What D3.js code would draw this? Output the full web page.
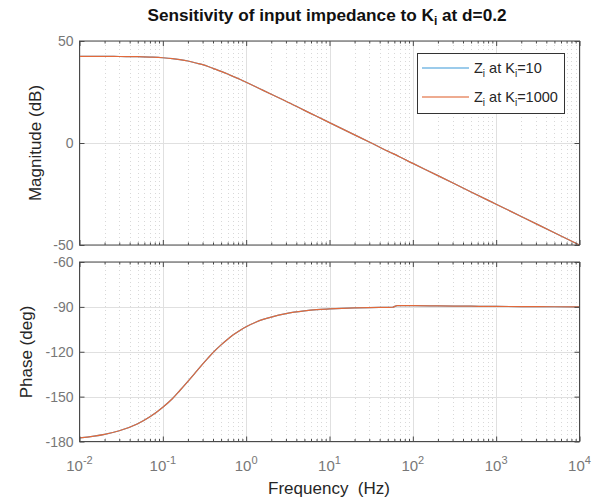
<!DOCTYPE html>
<html>
<head>
<meta charset="utf-8">
<script src="https://cdn.jsdelivr.net/npm/d3@7"></script>
<style>
  body { margin: 0; background: #fff; }
  svg { font-family: "Liberation Sans", Arial, sans-serif; }
</style>
</head>
<body>
<div id="chart"></div>
<script>
// frequency points (Hz)
var freq = [0.01, 0.02, 0.03, 0.05, 0.07, 0.1, 0.13, 0.16, 0.2, 0.25, 0.3, 0.35, 0.4, 0.5, 0.6, 0.7, 0.85,
            1, 1.3, 1.6, 2, 3, 5, 7, 10, 20, 30, 50, 57, 65, 70, 100, 200, 500,
            1000, 2000, 5000, 10000];
// magnitude (dB)
var mag_k10 = [42.5, 42.5, 42.4, 42.3, 42.1, 41.8, 41.4, 40.9, 40.2, 39.2, 38.4, 37.5, 36.6, 35.1, 33.8, 32.6, 31.1,
               29.8, 27.6, 25.8, 23.9, 20.5, 16.0, 13.1, 10.0, 4.0, 0.5, -4.0, -5.1, -6.2, -6.9, -10.0, -16.0, -24.0,
               -30.0, -36.0, -44.0, -50.0];
var mag_k1000 = [42.5, 42.5, 42.4, 42.3, 42.1, 41.8, 41.4, 40.9, 40.2, 39.2, 38.4, 37.5, 36.6, 35.1, 33.8, 32.6, 31.1,
                 29.8, 27.6, 25.8, 23.9, 20.5, 16.0, 13.1, 10.0, 4.0, 0.5, -4.0, -5.1, -6.2, -6.9, -10.0, -16.0, -24.0,
                 -30.0, -36.0, -44.0, -50.0];
// phase (deg)
var phase_k10 = [-177.6, -175.2, -172.8, -168.1, -163.5, -157.1, -151.4, -145.9, -139.8, -133.5, -128.3, -124.1, -120.6, -115.4, -111.6, -108.7, -105.6,
                 -103.3, -100.3, -98.4, -96.8, -94.5, -92.7, -91.9, -91.4, -90.7, -90.45, -90.3, -90.25, -89.1, -89.1, -89.2, -89.35, -89.55,
                 -89.7, -89.8, -89.9, -90.0];
var phase_k1000 = [-177.6, -175.2, -172.8, -168.1, -163.5, -157.1, -151.4, -145.9, -139.8, -133.5, -128.3, -124.1, -120.6, -115.4, -111.6, -108.7, -105.6,
                   -103.3, -100.3, -98.4, -96.8, -94.5, -92.7, -91.9, -91.4, -90.7, -90.45, -90.3, -90.25, -89.1, -89.1, -89.2, -89.35, -89.55,
                   -89.7, -89.8, -89.9, -90.0];

var mag_ticks = [-50, 0, 50];
var phase_ticks = [-180, -150, -120, -90, -60];
var decade_ticks = [1e-2, 1e-1, 1e0, 1e1, 1e2, 1e3, 1e4];
var series_names = ["10", "1000"];
var series_colors = ["#4DA3DB", "#E2693A"];

var width = 599, height = 504;
var left = 79.5, right = 579.5;
var mag_top = 41, mag_bottom = 245;
var ph_top = 262, ph_bottom = 441.5;

var svg = d3.select("#chart").append("svg")
    .attr("width", width)
    .attr("height", height);

var x = d3.scaleLog().domain([1e-2, 1e4]).range([left, right]);
var yMag = d3.scaleLinear().domain([-50, 50]).range([mag_bottom, mag_top]);
var yPh = d3.scaleLinear().domain([-180, -60]).range([ph_bottom, ph_top]);

// minor tick values 2..9 per decade
var minor = [];
decade_ticks.slice(0, -1).forEach(function(d) {
    for (var k = 2; k <= 9; k++) minor.push(d * k);
});

function draw_panel(yScale, yTicks, top, bottom, series, showX) {
    var g = svg.append("g");

    // minor x grid (dotted)
    g.selectAll(".minor-grid").data(minor).enter().append("line")
        .attr("x1", function(d) { return Math.round(x(d)) + 0.5; })
        .attr("x2", function(d) { return Math.round(x(d)) + 0.5; })
        .attr("y1", top).attr("y2", bottom)
        .attr("stroke", "#d8d8d8")
        .attr("stroke-dasharray", "1,3");

    // major grid
    g.selectAll(".xgrid").data(decade_ticks).enter().append("line")
        .attr("x1", function(d) { return Math.round(x(d)) + 0.5; })
        .attr("x2", function(d) { return Math.round(x(d)) + 0.5; })
        .attr("y1", top).attr("y2", bottom)
        .attr("stroke", "#e0e0e0");
    g.selectAll(".ygrid").data(yTicks).enter().append("line")
        .attr("x1", left).attr("x2", right)
        .attr("y1", function(d) { return Math.round(yScale(d)) + 0.5; })
        .attr("y2", function(d) { return Math.round(yScale(d)) + 0.5; })
        .attr("stroke", "#e0e0e0");

    // curves
    var line = d3.line()
        .curve(d3.curveMonotoneX)
        .x(function(d) { return x(d[0]); })
        .y(function(d) { return yScale(d[1]); });
    series.forEach(function(vals, i) {
        g.append("path")
            .attr("d", line(freq.map(function(f, j) { return [f, vals[j]]; })))
            .attr("fill", "none")
            .attr("stroke", series_colors[i])
            .attr("stroke-width", 1.2);
    });

    // ticks, inward on all sides
    var axisColor = "#4a4a4a";
    var axB = d3.axisBottom(x).tickValues(decade_ticks).tickSize(-5).tickFormat("");
    var axT = d3.axisTop(x).tickValues(decade_ticks).tickSize(-5).tickFormat("");
    var axBm = d3.axisBottom(x).tickValues(minor).tickSize(-2.5).tickFormat("");
    var axTm = d3.axisTop(x).tickValues(minor).tickSize(-2.5).tickFormat("");
    var axL = d3.axisLeft(yScale).tickValues(yTicks).tickSize(-5).tickFormat("");
    var axR = d3.axisRight(yScale).tickValues(yTicks).tickSize(-5).tickFormat("");
    [[axB, "translate(0," + bottom + ")"], [axBm, "translate(0," + bottom + ")"],
     [axT, "translate(0," + top + ")"], [axTm, "translate(0," + top + ")"],
     [axL, "translate(" + left + ",0)"], [axR, "translate(" + right + ",0)"]].forEach(function(a) {
        var ag = g.append("g").attr("transform", a[1]).call(a[0]);
        ag.select(".domain").remove();
        ag.selectAll("line").attr("stroke", axisColor);
    });

    // box
    g.append("rect")
        .attr("x", left).attr("y", top)
        .attr("width", right - left).attr("height", bottom - top)
        .attr("fill", "none")
        .attr("stroke", axisColor);

    // y tick labels
    g.selectAll(".ylab").data(yTicks).enter().append("text")
        .attr("x", left - 6)
        .attr("y", function(d) { return yScale(d) + 5; })
        .attr("text-anchor", "end")
        .attr("font-size", 14)
        .attr("fill", "#777")
        .text(function(d) { return d; });

    if (showX) {
        var xl = g.selectAll(".xlab").data(decade_ticks).enter().append("text")
            .attr("x", function(d) { return x(d); })
            .attr("y", bottom + 29)
            .attr("text-anchor", "middle")
            .attr("font-size", 15)
            .attr("fill", "#777");
        xl.append("tspan").text("10");
        xl.append("tspan")
            .attr("dy", -7)
            .attr("font-size", 11)
            .text(function(d) { return Math.round(Math.log10(d)); });
    }
}

draw_panel(yMag, mag_ticks, mag_top, mag_bottom, [mag_k10, mag_k1000], false);
draw_panel(yPh, phase_ticks, ph_top, ph_bottom, [phase_k10, phase_k1000], true);

// title
var title = svg.append("text")
    .attr("x", 327).attr("y", 21)
    .attr("text-anchor", "middle")
    .attr("font-size", 17.2)
    .attr("font-weight", "bold")
    .attr("fill", "#111");
title.append("tspan").text("Sensitivity of input impedance to K");
title.append("tspan").attr("dy", 4).attr("font-size", 12).text("i");
title.append("tspan").attr("dy", -4).text(" at d=0.2");

// axis labels
svg.append("text")
    .attr("transform", "translate(41,143)rotate(-90)")
    .attr("text-anchor", "middle")
    .attr("font-size", 17)
    .attr("fill", "#262626")
    .text("Magnitude (dB)");
svg.append("text")
    .attr("transform", "translate(32,352)rotate(-90)")
    .attr("text-anchor", "middle")
    .attr("font-size", 17)
    .attr("fill", "#262626")
    .text("Phase (deg)");
svg.append("text")
    .attr("x", 329).attr("y", 494)
    .attr("text-anchor", "middle")
    .attr("font-size", 17)
    .attr("fill", "#262626")
    .attr("xml:space", "preserve")
    .style("white-space", "pre")
    .text("Frequency  (Hz)");

// legend
var lg = svg.append("g");
lg.append("rect")
    .attr("x", 417.5).attr("y", 53.5)
    .attr("width", 147).attr("height", 60)
    .attr("fill", "#fff")
    .attr("stroke", "#333");
series_names.forEach(function(name, i) {
    var yy = 68 + i * 29;
    lg.append("line")
        .attr("x1", 422).attr("x2", 469)
        .attr("y1", yy).attr("y2", yy)
        .attr("stroke", series_colors[i])
        .attr("stroke-opacity", 0.75)
        .attr("stroke-width", 1.3);
    var t = lg.append("text")
        .attr("x", 474).attr("y", yy + 5)
        .attr("font-size", 14.5)
        .attr("fill", "#262626");
    t.append("tspan").text("Z");
    t.append("tspan").attr("dy", 4).attr("font-size", 10).text("i");
    t.append("tspan").attr("dy", -4).text(" at K");
    t.append("tspan").attr("dy", 4).attr("font-size", 10).text("i");
    t.append("tspan").attr("dy", -4).text("=" + name);
});
</script>
</body>
</html>
